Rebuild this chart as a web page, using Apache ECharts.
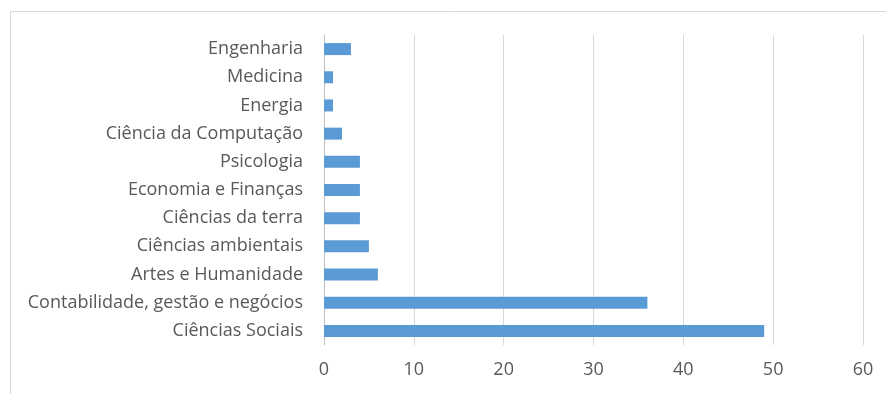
<!DOCTYPE html>
<html><head><meta charset="utf-8">
<script src="https://cdn.jsdelivr.net/npm/echarts@6/dist/echarts.min.js"></script>
<style>html,body{margin:0;padding:0;background:#fff}#c{width:886px;height:394px}</style>
</head><body><div id="c"></div>
<script>
const categories = ["Ciências Sociais","Contabilidade, gestão e negócios","Artes e Humanidade","Ciências ambientais","Ciências da terra","Economia e Finanças","Psicologia","Ciência da Computação","Energia","Medicina","Engenharia"];
const values = [49,36,6,5,4,4,4,2,1,1,3];
const xTicks = [0,10,20,30,40,50,60];
const font = "'Open Sans', sans-serif";
const chart = echarts.init(document.getElementById('c'), null, {renderer:'canvas'});
chart.setOption({
  animation:false,
  backgroundColor:'#fff',
  graphic:[{type:'rect',shape:{x:10.5,y:11.5,width:2000,height:2000},style:{fill:'none',stroke:'#d9d9d9',lineWidth:1}}],
  grid:{left:324,top:35,right:23,bottom:49,containLabel:false},
  xAxis:{type:'value',min:xTicks[0],max:xTicks[xTicks.length-1],interval:10,
    axisLine:{show:false},axisTick:{show:false},
    splitLine:{lineStyle:{color:'#d9d9d9',width:1}},
    axisLabel:{color:'#595959',fontSize:18,fontFamily:font,margin:16}},
  yAxis:{type:'category',data:categories,
    axisLine:{lineStyle:{color:'#bfbfbf'}},
    axisTick:{length:4,lineStyle:{color:'#bfbfbf'}},
    axisLabel:{color:'#595959',fontSize:18,fontFamily:font,margin:21}},
  series:[{type:'bar',data:values,barWidth:12,itemStyle:{color:'#5b9bd5'}}]
});
</script></body></html>
